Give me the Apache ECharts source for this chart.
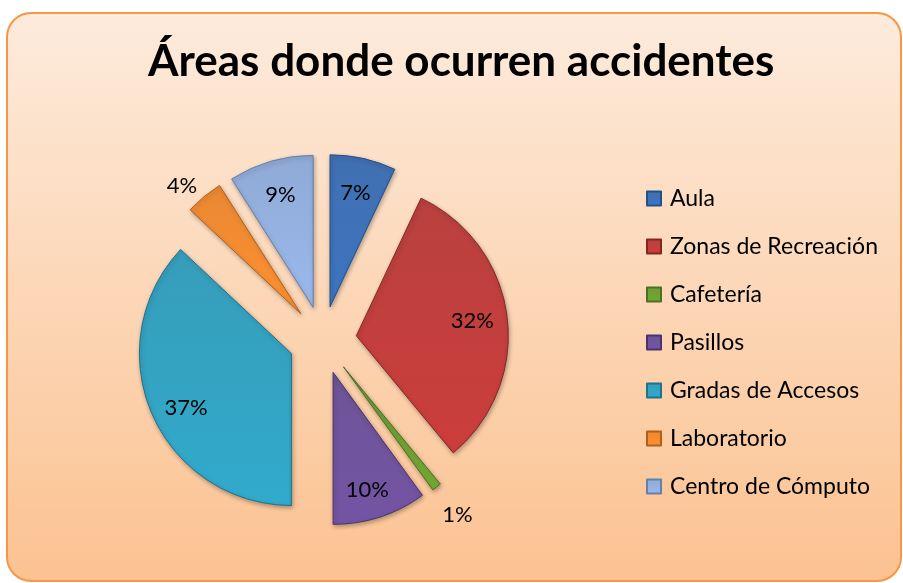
<!DOCTYPE html>
<html>
<head>
<meta charset="utf-8">
<title>Áreas donde ocurren accidentes</title>
<script src="https://cdn.jsdelivr.net/npm/echarts@6/dist/echarts.min.js"></script>
<style>
  html, body { margin: 0; padding: 0; background: #fff; }
  #chart { width: 903px; height: 583px; }
</style>
</head>
<body>
<div id="chart"></div>
<script>
// datos
var areas = ['Aula', 'Zonas de Recreación', 'Cafetería', 'Pasillos', 'Gradas de Accesos', 'Laboratorio', 'Centro de Cómputo'];
var porcentajes = [7, 32, 1, 10, 37, 4, 9];
var colores = ['#3669ad', '#b63735', '#66972e', '#674b93', '#2c98b7', '#e8822a', '#8aa6d4'];
var bordes = ['#24508a', '#852624', '#4a7022', '#48336e', '#1f718c', '#b0601a', '#6580ab'];
var etiquetasFuera = ['Cafetería', 'Laboratorio'];
// pequeno ajuste de algunas etiquetas
var ajusteEtiquetas = { 'Cafetería': [-8, 17], 'Laboratorio': [7, 0], 'Gradas de Accesos': [2, 8], 'Pasillos': [-2, 6] };

var chart = echarts.init(document.getElementById('chart'));

var centro = [322.6, 340];
var radio = 152;
var separacion = 34;

var rebanadas = areas.map(function (n, i) {
  return {
    name: n,
    value: porcentajes[i],
    selected: true,
    itemStyle: {
      color: new echarts.graphic.LinearGradient(0, 0, 0, 1, [
        { offset: 0, color: echarts.color.lift(colores[i], 0.05) },
        { offset: 1, color: echarts.color.lift(colores[i], -0.12) }
      ]),
      borderColor: bordes[i],
      borderWidth: 1,
      shadowBlur: 4,
      shadowColor: 'rgba(0,0,0,0.3)',
      shadowOffsetX: 1,
      shadowOffsetY: 2
    }
  };
});

// serie invisible solo para ubicar las etiquetas
var etiquetas = areas.map(function (n, i) {
  var fuera = etiquetasFuera.indexOf(n) >= 0;
  return {
    name: n,
    value: porcentajes[i],
    selected: true,
    label: { position: fuera ? 'outside' : 'inside' },
    labelLine: { show: false, length: fuera ? 14 : 0, length2: 0 }
  };
});

var option = {
  animation: false,
  graphic: [{
    type: 'rect',
    shape: { x: 7, y: 13, width: 894, height: 568, r: 24 },
    style: {
      fill: new echarts.graphic.LinearGradient(0, 0, 0, 1, [
        { offset: 0, color: '#fdebdc' },
        { offset: 1, color: '#fbc291' }
      ]),
      stroke: '#f79646',
      lineWidth: 2
    },
    z: -10
  }],
  title: {
    text: 'Áreas donde ocurren accidentes',
    left: 143,
    top: 35,
    textStyle: {
      fontFamily: 'Lato',
      fontWeight: 'bold',
      fontSize: 44,
      color: '#000'
    }
  },
  legend: {
    orient: 'vertical',
    left: 641,
    top: 182,
    icon: 'rect',
    itemWidth: 14,
    itemHeight: 14,
    itemGap: 25,
    data: areas,
    textStyle: { fontFamily: 'Lato', fontSize: 23, color: '#000', padding: [0, 0, 0, 4] },
    selectedMode: false
  },
  series: [{
    type: 'pie',
    center: centro,
    radius: [0, radio],
    startAngle: 90,
    clockwise: true,
    selectedMode: 'multiple',
    selectedOffset: separacion,
    label: { show: false },
    labelLine: { show: false },
    emphasis: { disabled: true },
    data: rebanadas
  }, {
    type: 'pie',
    center: centro,
    radius: [radio * 0.5, radio],
    startAngle: 90,
    clockwise: true,
    selectedMode: 'multiple',
    selectedOffset: separacion,
    silent: true,
    avoidLabelOverlap: false,
    itemStyle: { color: 'rgba(0,0,0,0)' },
    label: {
      show: true,
      formatter: '{c}%',
      fontFamily: 'Lato',
      fontSize: 22,
      color: '#000'
    },
    labelLayout: function (p) {
      var a = ajusteEtiquetas[areas[p.dataIndex]];
      return a ? { dx: a[0], dy: a[1] } : {};
    },
    emphasis: { disabled: true },
    data: etiquetas
  }]
};

chart.setOption(option);
</script>
</body>
</html>
